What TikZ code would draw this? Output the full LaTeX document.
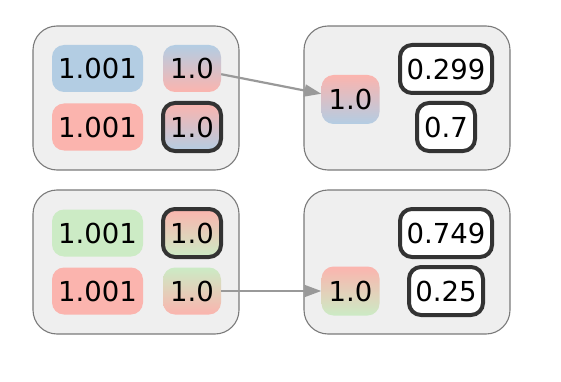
\documentclass[tikz,border=0pt]{standalone}
\usepackage{fontspec}
\setmainfont{DejaVu Sans}
\usetikzlibrary{arrows.meta}
\definecolor{pblue}{HTML}{B3CDE3}
\definecolor{pred}{HTML}{FBB4AE}
\definecolor{pgreen}{HTML}{CCEBC5}
\definecolor{clfill}{HTML}{EFEFEF}
\definecolor{cldraw}{HTML}{7A7A7A}
\definecolor{bdr}{HTML}{333333}
\definecolor{edgec}{HTML}{999999}
\begin{document}
\begin{tikzpicture}[x=1pt,y=-1pt,
  cluster/.style={draw=cldraw,fill=clfill,line width=1.1pt,rounded corners=24pt},
  val/.style={rectangle,rounded corners=12pt,inner sep=0pt,minimum height=47pt,
    font=\fontsize{27.5}{30}\selectfont,text=black},
  short/.style={val,minimum width=58pt},
  long/.style={val,minimum width=91pt},
  bord/.style={draw=bdr,line width=4pt,minimum height=48pt},
  edge/.style={draw=edgec,line width=2.2pt,-{Triangle[length=17pt,width=12pt]}}]
\useasboundingbox (0,0) rectangle (561,382);
% clusters
\draw[cluster] (33,26) rectangle (239,170);
\draw[cluster] (304,26) rectangle (510,170);
\draw[cluster] (33,190) rectangle (239,334);
\draw[cluster] (304,190) rectangle (510,334);
% top-left
\node[long,fill=pblue] (tl1) at (97.5,68.5) {1.001};
\node[short,top color=pblue,bottom color=pred] (tl2) at (192,68.5) {1.0};
\node[long,fill=pred] (tl3) at (97.5,127) {1.001};
\node[short,bord,top color=pred,bottom color=pblue] (tl4) at (192,127) {1.0};
% top-right
\node[short,minimum height=49pt,top color=pred,bottom color=pblue] (tr1) at (350.5,99.5) {1.0};
\node[val,bord,fill=white,minimum width=92pt] (tr2) at (446,69) {0.299};
\node[val,bord,fill=white,minimum width=58pt] (tr3) at (446,127) {0.7};
% bottom-left
\node[long,fill=pgreen] (bl1) at (97.5,233) {1.001};
\node[short,bord,top color=pred,bottom color=pgreen] (bl2) at (192,233) {1.0};
\node[long,fill=pred] (bl3) at (97.5,291) {1.001};
\node[short,top color=pgreen,bottom color=pred] (bl4) at (192,291) {1.0};
% bottom-right
\node[val,bord,fill=white,minimum width=92pt] (br2) at (446,233) {0.749};
\node[val,bord,fill=white,minimum width=74pt] (br3) at (446,291) {0.25};
\node[short,minimum height=49pt,top color=pred,bottom color=pgreen] (br1) at (350.5,291) {1.0};
% edges
\draw[edge] (tl2) -- (tr1);
\draw[edge] (bl4) -- (br1);
\end{tikzpicture}
\end{document}
